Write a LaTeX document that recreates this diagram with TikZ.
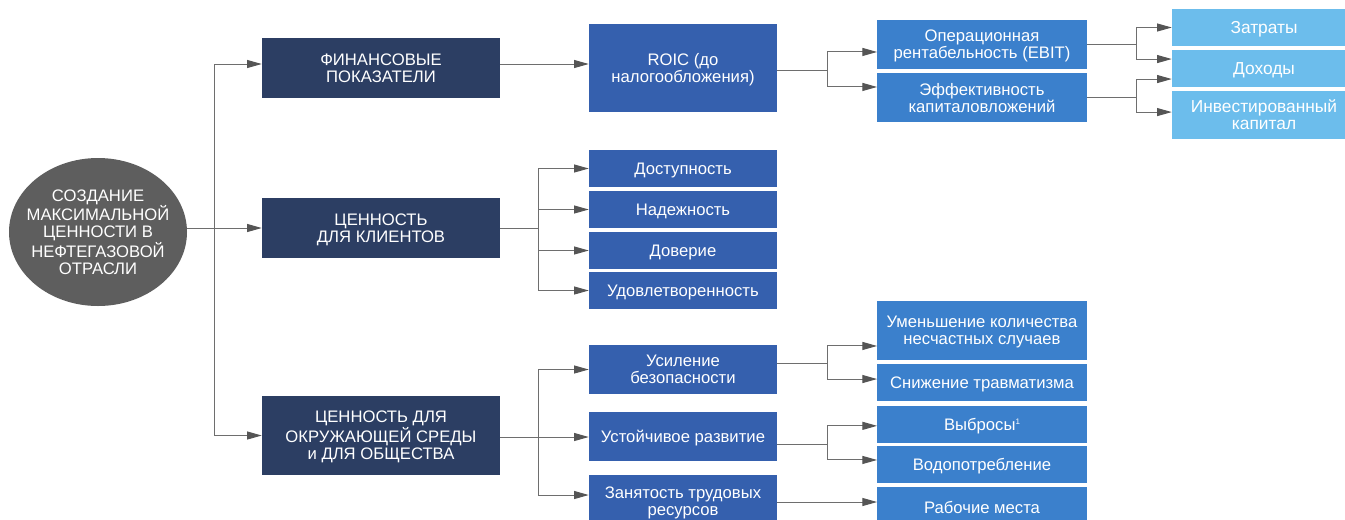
\documentclass[tikz,border=0pt]{standalone}
\usepackage{fontspec}
\setmainfont{Liberation Sans}
\usetikzlibrary{arrows.meta,shapes.geometric}
\definecolor{rootgray}{RGB}{94,94,94}
\definecolor{navy}{RGB}{44,62,99}
\definecolor{roicblue}{RGB}{53,96,174}
\definecolor{midblue}{RGB}{59,128,204}
\definecolor{skyblue}{RGB}{108,189,236}
\definecolor{linkgray}{RGB}{110,110,110}
\definecolor{tipgray}{RGB}{85,85,85}

\tikzset{
  box/.style={text=white,align=center,inner sep=1pt,text depth=-3pt,font=\fontsize{12.5}{12.75}\selectfont},
  lvlone/.style={box,fill=navy,minimum width=178.5pt},
  lvltwo/.style={box,fill=roicblue,minimum width=141pt},
  lvlthree/.style={box,fill=midblue,minimum width=157pt},
  lvlfour/.style={box,fill=skyblue,minimum width=138pt,font=\fontsize{13}{12.75}\selectfont},
  link/.style={draw=linkgray,line width=0.75pt},
  arrow/.style={link,-{Triangle[length=11pt,width=6pt,fill=tipgray,color=tipgray]}}
}

\begin{document}
\begin{tikzpicture}[x=0.75pt,y=-0.75pt]
  \useasboundingbox (0,0) rectangle (1345,519);
  \clip (0,0) rectangle (1345,519);
  % root and first level
  \node[ellipse,fill=rootgray,text=white,minimum width=133.5pt,minimum height=111pt,
        inner xsep=-8pt,inner ysep=0pt,text depth=-3pt,
        align=center,font=\fontsize{12.5}{12.75}\selectfont] (root) at (98,232)
        {СОЗДАНИЕ\\МАКСИМАЛЬНОЙ\\ЦЕННОСТИ В\\НЕФТЕГАЗОВОЙ\\ОТРАСЛИ};
  \node[lvlone,minimum height=45pt] (fin) at (381,68) {ФИНАНСОВЫЕ\\ПОКАЗАТЕЛИ};
  \node[lvlone,minimum height=45pt] (cli) at (381,228) {ЦЕННОСТЬ\\ДЛЯ КЛИЕНТОВ};
  \node[lvlone,minimum height=59pt] (env) at (381,435.5) {ЦЕННОСТЬ ДЛЯ\\ОКРУЖАЮЩЕЙ СРЕДЫ\\и ДЛЯ ОБЩЕСТВА};
  % second level
  \node[lvltwo,minimum height=66pt] (roic) at (683,68) {ROIC (до\\налогообложения)};
  \node[lvltwo,minimum height=27.75pt] (dost) at (683,168.5) {Доступность};
  \node[lvltwo,minimum height=27.75pt] (nad) at (683,209.5) {Надежность};
  \node[lvltwo,minimum height=27.75pt] (dov) at (683,250.5) {Доверие};
  \node[lvltwo,minimum height=27.75pt] (udov) at (683,290.5) {Удовлетворенность};
  \node[lvltwo,minimum height=36.75pt] (usil) at (683,369.5) {Усиление\\безопасности};
  \node[lvltwo,minimum height=36.75pt] (ust) at (683,436.5) {Устойчивое развитие};
  \node[lvltwo,minimum height=39pt] (zan) at (683,501) {Занятость трудовых\\ресурсов};
  % third level
  \node[lvlthree,minimum height=36.75pt] (oper) at (982,44.5) {Операционная\\рентабельность (EBIT)};
  \node[lvlthree,minimum height=36.75pt] (eff) at (982,97.5) {Эффективность\\капиталовложений};
  \node[lvlthree,minimum height=44.25pt] (umen) at (982,330.5) {Уменьшение количества\\несчастных случаев};
  \node[lvlthree,minimum height=27.75pt] (sniz) at (982,382.5) {Снижение травматизма};
  \node[lvlthree,minimum height=27.75pt] (vyb) at (982,424.5) {Выбросы\raisebox{4.5pt}{\fontsize{6}{6}\selectfont 1}};
  \node[lvlthree,minimum height=27.75pt] (vod) at (982,464.5) {Водопотребление};
  \node[lvlthree,minimum height=30pt] (rab) at (982,507) {Рабочие места};
  % fourth level
  \node[lvlfour,minimum height=27.75pt] (zat) at (1264,27.5) {Затраты};
  \node[lvlfour,minimum height=27.75pt] (dox) at (1264,68.5) {Доходы};
  \node[lvlfour,minimum height=36pt] (inv) at (1264,115) {Инвестированный\\капитал};

  % connectors
  \coordinate (j0) at (214,228);
  \draw[link] (root.east |- cli.west) -- (j0);
  \draw[arrow] (j0) |- ([yshift=3pt]fin.west);
  \draw[arrow] (j0) -- (cli.west);
  \draw[arrow] (j0) |- (env.west);
  \draw[arrow] ([yshift=3pt]fin.east) -- ([yshift=3pt]roic.west);

  \coordinate (j1) at (827,70);
  \draw[link] (roic.east |- j1) -- (j1);
  \draw[arrow] (j1) |- ([yshift=-5.6pt]oper.west);
  \draw[arrow] (j1) |- ([yshift=7.9pt]eff.west);

  \coordinate (j2) at (1136,44);
  \draw[link] (oper.east |- j2) -- (j2);
  \draw[arrow] (j2) |- (zat.west);
  \draw[arrow] (j2) |- ([yshift=7.1pt]dox.west);
  \coordinate (j3) at (1136,97);
  \draw[link] (eff.east |- j3) -- (j3);
  \draw[arrow] (j3) |- ([yshift=-7.9pt]dox.west);
  \draw[arrow] (j3) |- ([yshift=2.2pt]inv.west);

  \coordinate (j4) at (538,228);
  \draw[link] (cli.east) -- (j4);
  \foreach \t in {dost,nad,dov,udov}
    \draw[arrow] (j4) |- (\t.west);

  \coordinate (j5) at (538,437);
  \draw[link] (env.east |- j5) -- (j5);
  \draw[arrow] (j5) |- (usil.west);
  \draw[arrow] (j5) -- (ust.west |- j5);
  \draw[arrow] (j5) |- ([yshift=4.5pt]zan.west);

  \coordinate (j6) at (827,363);
  \draw[link] (usil.east |- j6) -- (j6);
  \draw[arrow] (j6) |- ([yshift=-11.6pt]umen.west);
  \draw[arrow] (j6) |- ([yshift=2.6pt]sniz.west);
  \coordinate (j7) at (827,444);
  \draw[link] (ust.east |- j7) -- (j7);
  \draw[arrow] (j7) |- ([yshift=-1pt]vyb.west);
  \draw[arrow] (j7) |- ([yshift=3.4pt]vod.west);
  \coordinate (j8) at (877,502);
  \draw[arrow] (zan.east |- j8) -- (rab.west |- j8);
\end{tikzpicture}
\end{document}
